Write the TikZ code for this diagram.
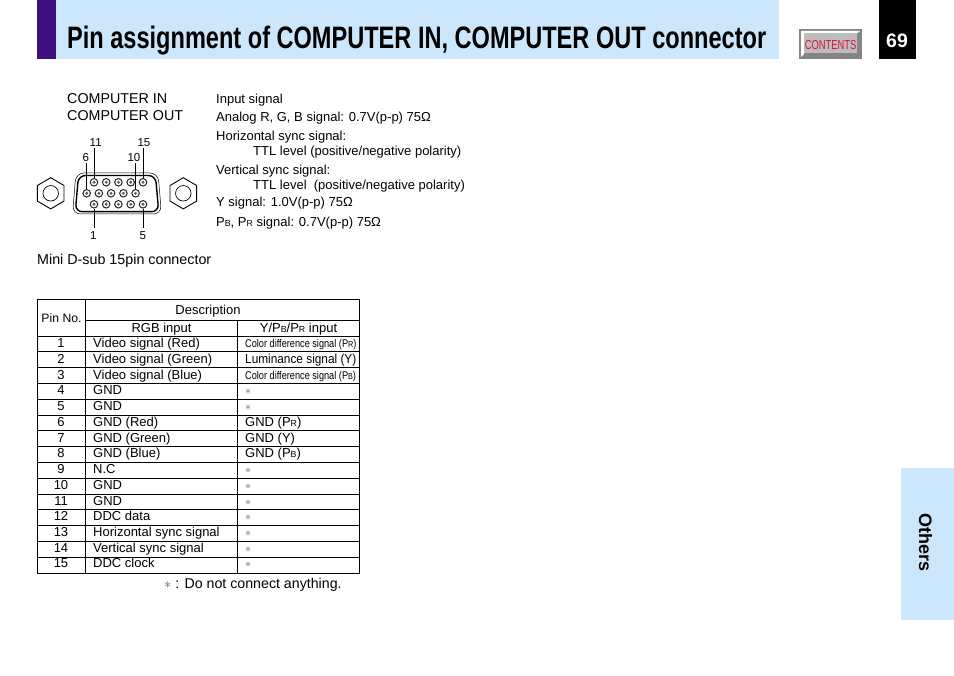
\documentclass[tikz,border=0pt]{standalone}
\usepackage{fontspec}
\setmainfont{Liberation Sans}
\newfontfamily\titlefont[FakeStretch=0.76]{Liberation Sans}
\newfontfamily\smallfont[FakeStretch=0.82]{Liberation Sans}
\newfontfamily\btnfont[FakeStretch=0.72]{Liberation Sans}
\newfontfamily\lumfont[FakeStretch=0.91]{Liberation Sans}
\usetikzlibrary{positioning,calc}
\definecolor{pagesky}{HTML}{CCE6FB}
\definecolor{titleviolet}{HTML}{3F0F7F}
\definecolor{btngrey}{HTML}{858585}
\definecolor{btnface}{HTML}{BDBDBD}
\definecolor{btnred}{HTML}{E0103C}
\newcommand{\subs}[1]{{\fontsize{8.8}{10}\selectfont #1}}
\newcommand{\nc}{{\color{black!65}$\ast$}}
\newcommand{\colordiff}[1]{{\smallfont\fontsize{11.2}{13}\selectfont Color difference signal (P\subs{#1})}}
\begin{document}
\begin{tikzpicture}
    [
      x=1pt, y=-1pt,
      txt/.style={anchor=base west, inner sep=0pt, font=\fontsize{14.3}{16}\selectfont},
      cell/.style={anchor=base west, inner sep=0pt, font=\fontsize{13}{15}\selectfont},
      num/.style={anchor=base, inner sep=0pt, font=\fontsize{13}{15}\selectfont},
      pinlabel/.style={anchor=base, inner sep=0pt, font=\fontsize{11.5}{13}\selectfont},
      hole/.style={circle, draw=black!85, line width=1pt, minimum size=7.5pt, inner sep=0pt, fill=white},
      holecore/.style={circle, fill=black!65, minimum size=3.2pt, inner sep=0pt},
      rule/.style={line width=.8pt}
    ]
    \useasboundingbox (0,0) rectangle (954,676);
    % header
    \fill [pagesky] (56,0) rectangle (779,59);
    \fill [titleviolet] (37,0) rectangle (56,59);
    \node (title) [anchor=base west, inner sep=0pt, font=\titlefont\bfseries\fontsize{31}{36}\selectfont] at (67,48.5) {Pin assignment of COMPUTER IN, COMPUTER OUT connector};
    \fill [black] (879,0) rectangle (916,59);
    \node (page) [anchor=base, inner sep=0pt, text=white, font=\bfseries\fontsize{19.5}{22}\selectfont] at (897,48) {69};
    \fill [btngrey] (799,29) rectangle (862,59);
    \fill [white] (801,31) -- (860,31) -- (857,33.5) -- (804,33.5) -- (804,54) -- (801,57) -- cycle;
    \fill [btnface] (804,33.5) rectangle (857,53.5);
    \node (contents) [inner sep=0pt, text=btnred, font=\btnfont\fontsize{13}{15}\selectfont] at (830.5,45) {CONTENTS};
    \fill [pagesky] (900.5,468.5) rectangle (954,620);
    \node (others) [rotate=-90, inner sep=0pt, font=\bfseries\fontsize{18}{20}\selectfont] at (925.5,543) {Others};
    % connector
    \foreach \name/\cx in {boltl/50.7,boltr/183.3} {
      \draw [line width=.9pt] (\cx,177.7) -- ++(13.3,7.8) -- ++(0,15.6) -- ++(-13.3,7.8) -- ++(-13.3,-7.8) -- ++(0,-15.6) -- cycle;
      \node (\name) [circle, draw, line width=.7pt, minimum size=15.5pt, inner sep=0pt] at (\cx,193.3) {};
    }
    \node (cin) [txt] at (67,103.7) {COMPUTER IN};
    \node (cout) [txt] at (67,120.7) {COMPUTER OUT};
    \draw [line width=.5pt, rounded corners=8pt] (76,173) -- (158,173) -- (161.5,214) -- (72.5,214) -- cycle;
    \draw [line width=1.4pt, rounded corners=7pt] (78.5,175.5) -- (155.5,175.5) -- (158.7,211.7) -- (75.3,211.7) -- cycle;
    \foreach \i/\x/\y in {11/94/182.3,12/106.2/182.3,13/118.4/182.3,14/130.7/182.3,15/143/182.3,6/86.7/193.3,7/98.9/193.3,8/111.1/193.3,9/123.4/193.3,10/135.6/193.3,1/94/204.3,2/106.2/204.3,3/118.4/204.3,4/130.7/204.3,5/143/204.3} {
      \node (h\i) [hole] at (\x,\y) {};
      \node [holecore] at (h\i) {};
    }
    \node (l11) [pinlabel] at (95.7,146.7) {11};
    \node (l15) [pinlabel] at (144,146.7) {15};
    \node (l6) [pinlabel] at (85.7,161.7) {6};
    \node (l10) [pinlabel] at (134,161.7) {10};
    \foreach \i/\j in {h11/l11,h15/l15,h6/l6,h10/l10}
      \draw [line width=.6pt, shorten >=1pt] (\i) -- (\i |- \j.south);
    \node (l1) [pinlabel] at (93.3,239.5) {1};
    \node (l5) [pinlabel] at (142.7,239.5) {5};
    \foreach \i/\j in {h1/l1,h5/l5}
      \draw [line width=.6pt, shorten >=3pt] (\i) -- (\i |- \j.north);
    \node (mini) [txt] at (37,265) {Mini D-sub 15pin connector};
    % signal list
    \node (s1) [cell] at (216,103.5) {Input signal};
    \node (s2) [cell] at (216,121.5) {Analog R, G, B signal: 0.7V(p-p) 75Ω};
    \node (s3) [cell] at (216,140.5) {Horizontal sync signal:};
    \node (s4) [cell] at (253,155.5) {TTL level (positive/negative polarity)};
    \node (s5) [cell] at (216,174.5) {Vertical sync signal:};
    \node (s6) [cell] at (253,189.5) {TTL level\ \ (positive/negative polarity)};
    \node (s7) [cell] at (216,206.5) {Y signal: 1.0V(p-p) 75Ω};
    \node (s8) [cell] at (216,226.5) {P\subs{B}, P\subs{R} signal: 0.7V(p-p) 75Ω};
    % table
    \draw [rule] (37.5,299.5) rectangle (359.5,573);
    \draw [rule] (85.5,299.5) -- (85.5,573);
    \draw [rule] (237.5,320.5) -- (237.5,573);
    \draw [rule] (85.5,320.5) -- (359.5,320.5);
    \draw [rule] (37.5,336) -- (359.5,336);
    \foreach \r in {1,...,14}
      \draw [rule] (37.5,{336+\r*15.8}) -- (359.5,{336+\r*15.8});
    \node (pinno) [anchor=base, inner sep=0pt, font=\fontsize{12.2}{14}\selectfont] at (61.5,323) {Pin No.};
    \node (desc) [num] at (208,314.5) {Description};
    \node (rgb) [num] at (161.5,332.5) {RGB input};
    \node (ypbpr) [num] at (298.5,332.5) {Y/P\subs{B}/P\subs{R} input};
    \foreach \r/\rgbtext/\ypbtext in {1/Video signal (Red)/\colordiff{R},2/Video signal (Green)/{\lumfont\fontsize{13}{15}\selectfont Luminance signal (Y)},3/Video signal (Blue)/\colordiff{B},4/GND/\nc,5/GND/\nc,6/GND (Red)/GND (P\subs{R}),7/GND (Green)/GND (Y),8/GND (Blue)/GND (P\subs{B}),9/N.C/\nc,10/GND/\nc,11/GND/\nc,12/DDC data/\nc,13/Horizontal sync signal/\nc,14/Vertical sync signal/\nc,15/DDC clock/\nc} {
      \node (n\r) [num] at (61,{347.8+(\r-1)*15.72}) {\r};
      \node (a\r) [cell] at (93,{347.8+(\r-1)*15.72}) {\rgbtext};
      \node (b\r) [cell] at (245,{347.8+(\r-1)*15.72}) {\ypbtext};
    }
    \node (note) [anchor=base west, inner sep=0pt, font=\fontsize{14.2}{16}\selectfont] at (164,588) {\nc\ : Do not connect anything.};
\end{tikzpicture}
\end{document}
